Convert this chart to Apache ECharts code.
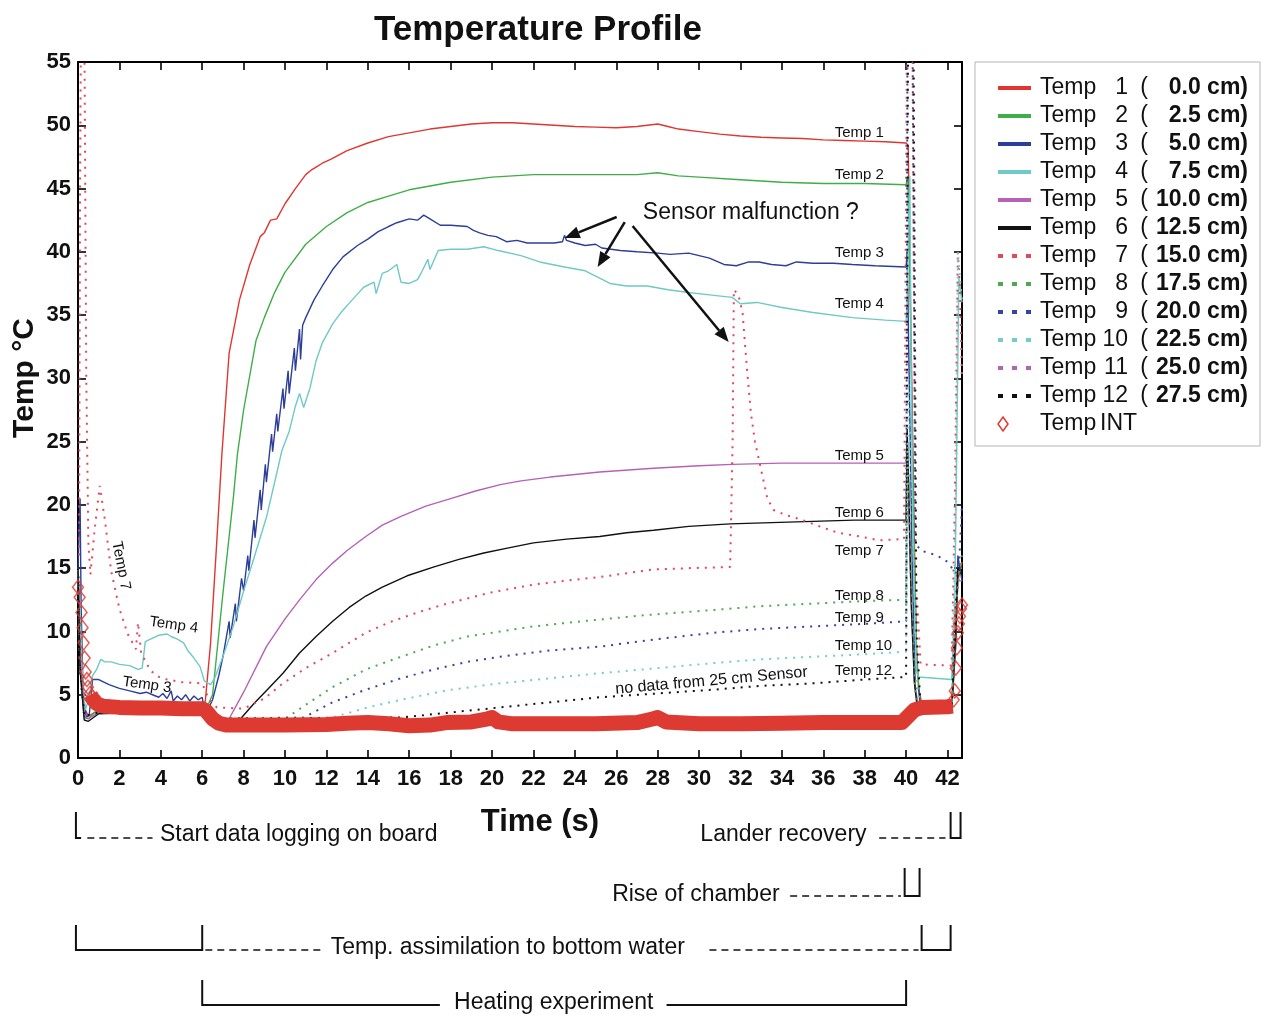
<!DOCTYPE html>
<html><head><meta charset="utf-8">
<script src="https://cdn.jsdelivr.net/npm/echarts@6/dist/echarts.min.js"></script>
<style>html,body{margin:0;padding:0;background:#fff}#c{width:1263px;height:1017px}</style>
</head><body><div id="c"></div>
<script>
const FONT = "'Liberation Sans', Arial, Helvetica, sans-serif";

// ---- data ----
const seriesNames = ['Temp 1','Temp 2','Temp 3','Temp 4','Temp 5','Temp 6','Temp 7','Temp 8','Temp 9','Temp 10','Temp 11','Temp 12'];
const depths = ['0.0','2.5','5.0','7.5','10.0','12.5','15.0','17.5','20.0','22.5','25.0','27.5'];

const t1 = [[0,15],[0.1,8],[0.3,4],[0.5,3.3],[0.8,3.6],[1.2,3.9],[2,3.9],[3,3.85],[4,3.8],[5,3.8],[6,3.8],[6.15,4.5],[6.4,9],[6.7,17],[6.95,24],[7.3,32],[7.8,36.2],[8.3,39],[8.8,41.2],[9.0,41.5],[9.3,42.5],[9.6,42.6],[10,43.8],[10.5,45],[11,46.1],[11.3,46.5],[11.5,46.7],[11.8,47.0],[12.2,47.3],[13,48.0],[14,48.6],[15,49.1],[16,49.4],[17,49.7],[18,49.9],[19,50.1],[20,50.2],[21,50.2],[22,50.1],[23,50.0],[24,49.9],[25,49.85],[26,49.8],[27,49.9],[27.5,50.0],[28,50.1],[28.5,49.9],[29,49.7],[30,49.5],[31,49.3],[32,49.15],[33,49.05],[34,49.0],[35,48.95],[36,48.85],[37,48.8],[38,48.75],[39,48.7],[40,48.6],[40.1,48.4],[40.25,32],[40.4,17],[40.5,9],[40.6,5.5],[40.75,4.4],[41,4.2],[42,4.1],[42.2,4.2],[42.35,8],[42.5,14],[42.7,15.5]];
const t2 = [[0,15],[0.1,7],[0.3,3.2],[0.5,3.1],[0.8,3.6],[1.2,3.8],[3,3.8],[6,3.7],[6.2,3.9],[6.5,5],[7,13],[7.5,20.5],[7.7,24],[8,27.5],[8.6,33],[9,34.8],[9.5,36.8],[10,38.4],[11,40.6],[12,42.0],[13,43.1],[14,43.9],[15,44.4],[16,44.9],[17,45.2],[18,45.5],[20,45.9],[22,46.1],[24,46.1],[26,46.1],[27,46.1],[28,46.25],[29,46.0],[30,45.9],[32,45.7],[34,45.5],[36,45.4],[38,45.4],[40,45.3],[40.08,46],[40.2,36],[40.35,20],[40.5,8],[40.7,4.0],[42.2,4.0],[42.4,9],[42.5,15],[42.7,15]];
const t3 = [[0,15],[0.05,18],[0.1,20.5],[0.15,12],[0.25,5],[0.4,3.2],[0.55,3.5],[0.7,6.2],[1,6.2],[1.5,5.8],[2,5.5],[2.5,5.3],[3,5.1],[3.3,5.2],[3.6,5.0],[3.9,4.8],[4.1,5.1],[4.3,4.7],[4.5,5.3],[4.6,4.5],[4.8,4.9],[5.0,4.6],[5.2,5.0],[5.4,4.5],[5.6,4.9],[5.8,4.6],[6.0,4.8],[6.1,3.8],[6.3,3.9],[6.5,4.6],[6.8,6.5],[7.0,8.0],[7.3,10.8],[7.35,9.5],[7.6,12.2],[7.65,10.8],[7.9,14.2],[8.0,13.2],[8.2,16],[8.25,14.8],[8.5,18.8],[8.55,17.4],[8.8,21.2],[8.85,19.6],[9.05,23.2],[9.1,21.8],[9.35,25.6],[9.4,24.2],[9.6,27.2],[9.65,25.8],[9.9,29.2],[9.95,27.6],[10.15,30.6],[10.2,28.8],[10.45,32.4],[10.5,30.6],[10.7,33.9],[10.75,31.5],[10.85,34.2],[11,34.8],[11.4,36.2],[11.8,37.3],[12.3,38.6],[12.8,39.6],[13.5,40.5],[14,41.0],[14.5,41.6],[15,42.0],[15.4,42.3],[16,42.6],[16.4,42.5],[16.7,42.9],[17,42.6],[17.5,42.1],[18,42.1],[18.8,42.0],[19.1,41.7],[19.4,41.5],[19.8,41.3],[20.2,41.2],[20.7,40.8],[21.2,40.9],[21.7,40.7],[22.3,40.7],[23,40.7],[23.4,40.8],[23.5,41.3],[23.6,40.9],[24,40.7],[24.5,40.5],[25,40.6],[25.3,40.3],[26.2,40.1],[27,40.0],[28,39.9],[28.6,39.8],[29.5,39.9],[30.5,39.5],[31.2,39.0],[31.8,38.9],[32.4,39.2],[32.9,39.2],[33.5,39.0],[34.2,38.9],[34.7,39.2],[35.5,39.1],[36.5,39.1],[37.4,39.0],[38.5,38.9],[40,38.8],[40.05,40],[40.15,30],[40.3,15],[40.45,5.5],[40.6,5.5],[40.7,4.0],[42.2,3.8],[42.4,9],[42.5,16],[42.7,14]];
const t4 = [[0,15],[0.1,12],[0.2,7],[0.35,3.8],[0.5,4.5],[0.7,6.5],[0.9,7.0],[1.1,7.8],[1.3,7.6],[1.6,7.6],[2,7.4],[2.5,7.3],[2.9,7.0],[3.1,7.1],[3.25,9.2],[3.5,9.4],[3.9,9.7],[4.3,9.8],[4.5,9.6],[4.8,9.4],[5.1,9.1],[5.3,8.5],[5.6,7.9],[5.9,7.2],[6.1,6.1],[6.4,5.8],[6.6,6.3],[7.0,8.0],[7.5,10.4],[8.0,13.2],[8.5,15.8],[9.1,19.0],[9.6,22.5],[9.85,24.3],[10.2,25.8],[10.5,27.8],[10.7,28.8],[10.9,27.7],[11.2,29.2],[11.5,31.4],[11.8,32.8],[12.3,34.3],[12.7,35.2],[13.3,36.3],[13.8,37.2],[14.3,37.6],[14.4,36.7],[14.7,38.3],[15.0,38.5],[15.4,39.0],[15.6,37.6],[16.0,37.5],[16.4,37.8],[16.6,38.4],[16.9,39.4],[17.0,38.6],[17.4,40.1],[18,40.2],[18.8,40.2],[19.6,40.4],[20.3,40.1],[21.4,39.7],[22.3,39.2],[23.5,38.8],[24.5,38.5],[25.1,38.0],[25.7,37.5],[26.5,37.3],[27.5,37.3],[28.5,37.0],[29.4,36.8],[30.5,36.6],[31.6,36.4],[32,35.9],[32.8,36.0],[34,35.6],[35.5,35.2],[37.4,34.8],[39,34.6],[40,34.5],[40.05,36],[40.12,42],[40.18,46],[40.25,30],[40.35,16],[40.5,7],[40.6,6.4],[42.2,6.2],[42.35,12],[42.45,25],[42.55,38],[42.7,36]];
const t5 = [[0,15],[0.1,8],[0.3,3.3],[0.5,3.1],[1,3.6],[3,3.7],[6,3.6],[6.3,3.2],[7.0,3.0],[7.3,3.1],[8,5.2],[9.1,8.8],[10,11],[10.7,12.5],[11.5,14.1],[12.3,15.4],[13,16.4],[13.9,17.5],[14.7,18.4],[15.6,19.1],[16.8,19.9],[18,20.5],[19.2,21.1],[20.4,21.6],[21.4,21.9],[22.8,22.2],[25.2,22.6],[27.8,22.9],[30,23.1],[31.6,23.2],[34,23.3],[36,23.3],[38.7,23.3],[40,23.3],[40.05,25],[40.2,15],[40.4,6],[40.6,4],[42.2,4],[42.4,10],[42.5,14],[42.7,14]];
const t6 = [[0,15],[0.1,7],[0.3,3.0],[0.5,2.9],[1,3.5],[3,3.6],[6,3.5],[6.4,3.0],[7.8,3.0],[8.5,4.3],[9.2,5.5],[9.9,6.7],[10.7,8.3],[11.5,9.6],[12.3,10.8],[13.1,11.9],[13.9,12.8],[14.7,13.5],[15.9,14.4],[17.2,15.1],[18.4,15.7],[19.6,16.2],[20.8,16.6],[22,17.0],[23.6,17.3],[25.2,17.5],[26.5,17.8],[27.8,18.0],[29.5,18.3],[31.5,18.5],[33.5,18.6],[35.5,18.7],[37.5,18.8],[40,18.8],[40.05,26],[40.12,22],[40.25,12],[40.4,6],[40.55,3.8],[42.2,3.8],[42.4,10],[42.5,15],[42.7,14.5]];
const t7 = [[0.05,16],[0.1,45],[0.15,60],[0.3,60],[0.4,30],[0.5,17],[0.6,14.5],[0.8,18],[1.05,21.5],[1.3,18.8],[1.6,14.8],[2,11.8],[2.4,9.8],[2.8,8.6],[2.9,10.7],[3.05,8.3],[3.5,6.9],[4,6.3],[5,6.0],[6,5.9],[6.3,4.7],[6.7,4.0],[8,3.9],[9,4.7],[9.9,5.9],[11,7.1],[12.3,8.3],[13.9,9.9],[15,10.7],[16.4,11.5],[17.6,12.1],[18.8,12.6],[20,13.1],[22,13.7],[23.5,14.0],[25.2,14.3],[27.8,14.9],[29.5,15.0],[31.5,15.1],[31.62,25],[31.68,37],[31.9,36.6],[32.1,35.2],[32.3,31],[32.5,27.3],[32.7,25],[32.9,23.5],[33.3,20.5],[33.6,19.6],[34.2,19.2],[35,18.8],[36,18.2],[36.7,17.8],[37.8,17.5],[38.7,17.2],[39.9,17.3],[40.05,60],[40.3,60],[40.45,15],[40.7,7.4],[42.2,7.3],[42.35,20],[42.5,40],[42.6,37],[42.7,30]];
const t8 = [[0,15],[0.1,7],[0.3,3.3],[0.6,3.4],[1,3.6],[6,3.5],[6.4,3.1],[8.5,3.0],[10.1,3.2],[11,4.2],[12.3,5.6],[13.9,7.0],[15.6,8.0],[17.2,8.9],[18.8,9.6],[20.4,10.0],[22,10.4],[24.3,10.8],[27.5,11.3],[30.7,11.7],[33,12.0],[35.5,12.2],[38,12.4],[40,12.5],[40.08,25],[40.25,14],[40.45,5],[40.7,4],[42.2,4],[42.4,12],[42.6,15],[42.7,16]];
const t9 = [[0,15],[0.1,7],[0.3,3.3],[1,3.6],[6,3.5],[6.4,3.1],[10.9,3.2],[12.3,4.4],[13.9,5.4],[15.6,6.3],[17.2,7.0],[18.8,7.6],[20.4,8.0],[22.8,8.5],[25.2,8.8],[28,9.4],[30.7,9.9],[33,10.2],[35.5,10.4],[38,10.6],[40,10.8],[40.07,60],[40.3,60],[40.45,17],[40.7,16.4],[41.5,16],[42,15.5],[42.4,14.6],[42.55,15],[42.7,20]];
const t10 = [[0,15],[0.1,7],[0.3,3.3],[1,3.6],[6,3.5],[6.4,3.1],[12.3,3.2],[14,4.0],[15.6,4.6],[18,5.4],[20.4,5.9],[22.8,6.3],[25.2,6.7],[28,7.1],[30.7,7.5],[33,7.8],[35.5,8.0],[38,8.2],[40,8.4],[40.1,30],[40.3,20],[40.5,6],[40.7,4],[42.2,4],[42.4,20],[42.5,40],[42.6,38],[42.7,36]];
const t11 = []; // no data from 25 cm sensor
const t12 = [[0,15],[0.1,7],[0.3,3.3],[1,3.6],[6,3.5],[6.4,3.1],[15.6,3.2],[18,3.6],[20.4,4.0],[22.8,4.4],[25.2,4.8],[28,5.1],[30.7,5.4],[33,5.7],[35.5,5.9],[38,6.2],[40,6.4],[40.1,60],[40.35,60],[40.5,10],[40.7,4],[42.2,4],[42.4,12],[42.5,15],[42.7,15]];
const intBand = [[0.6,5.0],[0.7,4.7],[0.9,4.3],[1.2,4.1],[2,4.0],[3,3.95],[4,3.95],[5,3.9],[6,3.9],[6.2,3.7],[6.5,3.1],[6.8,2.75],[7.2,2.6],[8,2.6],[10,2.6],[12,2.65],[13,2.75],[14,2.8],[15,2.7],[16,2.55],[17,2.6],[17.8,2.8],[19,2.85],[19.8,3.1],[20,3.2],[20.3,2.85],[21,2.7],[23,2.7],[25,2.7],[27,2.8],[27.8,3.1],[28,3.2],[28.4,2.85],[30,2.7],[32,2.7],[34,2.75],[36,2.8],[38,2.8],[39.8,2.8],[40.1,3.3],[40.4,3.8],[40.8,4.0],[42,4.05],[42.25,4.1]];
const intStart = [[0,13.5],[0.08,12.7],[0.17,11.5],[0.22,10.3],[0.27,9.1],[0.32,7.9],[0.37,6.8],[0.43,6.2],[0.48,5.6],[0.58,5.1],[0.68,4.8]];
const intEnd = [[42.3,4.6],[42.35,5.3],[42.4,7.1],[42.45,8.7],[42.5,9.9],[42.55,10.6],[42.6,11.2],[42.65,11.8],[42.7,12.1]];

// annotations (data coordinates)
const curveLabels = [['Temp 1',49.4],['Temp 2',46.1],['Temp 3',39.9],['Temp 4',35.9],['Temp 5',23.9],['Temp 6',19.4],['Temp 7',16.4],['Temp 8',12.8],['Temp 9',11.1],['Temp 10',8.9],['Temp 12',6.9]];
const arrows = [[26.02,42.75,23.51,41.09],[26.41,42.35,25.10,38.80],[26.79,42.04,31.43,32.87]];

const COL = {red:'#e0362f', green:'#3fae49', blue:'#2c3e98', cyan:'#6fc9c6', mag:'#b562b6', black:'#111111',
             dred:'#e2475c', dgreen:'#4aab52', dblue:'#34469f', dcyan:'#74ccc8', dmag:'#b562b6', dblack:'#111111', int:'#dd3a32'};

const defs = [
  {name:'Temp 1', data:t1, color:COL.red, dotted:false},
  {name:'Temp 2', data:t2, color:COL.green, dotted:false},
  {name:'Temp 3', data:t3, color:COL.blue, dotted:false},
  {name:'Temp 4', data:t4, color:COL.cyan, dotted:false},
  {name:'Temp 5', data:t5, color:COL.mag, dotted:false},
  {name:'Temp 6', data:t6, color:COL.black, dotted:false},
  {name:'Temp 7', data:t7, color:COL.dred, dotted:true},
  {name:'Temp 8', data:t8, color:COL.dgreen, dotted:true},
  {name:'Temp 9', data:t9, color:COL.dblue, dotted:true},
  {name:'Temp 10', data:t10, color:COL.dcyan, dotted:true},
  {name:'Temp 11', data:t11, color:COL.dmag, dotted:true},
  {name:'Temp 12', data:t12, color:COL.dblack, dotted:true}
];

const series = defs.map(d => ({
  name: d.name, type: 'line', data: d.data, symbol: 'none', showSymbol: false, silent: true,
  lineStyle: {color: d.color, width: d.dotted ? 2 : 1.4, type: d.dotted ? [2, 6] : 'solid'},
  itemStyle: {color: d.color}, z: 2, clip: true
}));
series.push({name:'Temp INT', type:'scatter', data: intStart.concat(intEnd), symbol:'diamond', symbolSize:[11,14], silent:true,
  itemStyle:{color:'rgba(255,255,255,0)', borderColor:COL.int, borderWidth:1.5}, z:5, clip:true});
series.push({name:'Temp INT', type:'line', data: intBand, symbol:'none', showSymbol:false, silent:true,
  lineStyle:{color:COL.int, width:15, cap:'butt', join:'round'}, itemStyle:{color:COL.int}, z:4, clip:true});

const legendData = defs.map(d => ({name:d.name, itemStyle:{opacity:0},
  lineStyle:{width:4, color:d.color, type: d.dotted ? [5, 9] : 'solid', cap:'butt', opacity:1}}));
legendData.push({name:'Temp INT', icon:'path://M5,0L10,7L5,14L0,7ZM33,0L33,0.01M33,14L33,13.99',
  itemStyle:{opacity:1, color:'rgba(255,255,255,0)', borderColor:COL.int, borderWidth:1.5}});

const axisCommon = {
  type:'value', splitLine:{show:false},
  axisLine:{show:true, onZero:false, lineStyle:{color:'#000', width:2}},
  axisTick:{show:true, inside:true, length:8, lineStyle:{color:'#000', width:1.6}}
};

const tok = (extra) => Object.assign({fontSize:23, fontFamily:FONT, lineHeight:28, color:'#111'}, extra);

const chart = echarts.init(document.getElementById('c'), null, {renderer:'canvas'});
chart.setOption({
  animation:false,
  backgroundColor:'#fff',
  title:{text:'Temperature Profile', left:533, top:8, textAlign:'center',
    textStyle:{fontFamily:FONT, fontSize:35, fontWeight:'bold', color:'#111'}},
  grid:{left:78, right:301, top:62, bottom:259, containLabel:false, outerBoundsMode:'none'},
  legend:{
    orient:'vertical', left:975, top:62, selectedMode:false, symbolKeepAspect:false,
    padding:[12, 12, 8, 21], borderColor:'#b5b5b5', borderWidth:1, backgroundColor:'#fff',
    itemWidth:33, itemHeight:14, itemGap:0, itemTextGap:10,
    data: legendData,
    formatter: function(name){
      if (name === 'Temp INT') return '{t|Temp}{i|INT}';
      const k = seriesNames.indexOf(name);
      return '{t|Temp}{n|' + (k+1) + '}{p|(}{v|' + depths[k] + ' cm)}';
    },
    textStyle:{fontFamily:FONT, fontSize:23, color:'#111', lineHeight:28,
      rich:{
        t: tok({width:60, padding:[0,0,0,4]}),
        n: tok({width:28, align:'right'}),
        p: tok({width:20, align:'right'}),
        v: tok({width:100, align:'right', fontWeight:'bold'}),
        i: tok({width:60})
      }}
  },
  xAxis:[
    Object.assign({}, axisCommon, {position:'bottom', min:0, max:42.7, interval:2,
      axisLabel:{show:true, margin:10, fontFamily:FONT, fontSize:22, fontWeight:'bold', color:'#111',
        formatter: v => (Math.abs(v - Math.round(v)) < 1e-6 && Math.round(v) % 2 === 0) ? String(Math.round(v)) : ''}}),
    Object.assign({}, axisCommon, {position:'top', min:0, max:42.7, interval:2, axisLabel:{show:false}})
  ],
  yAxis:[
    Object.assign({}, axisCommon, {position:'left', min:0, max:55, interval:5,
      axisLabel:{show:true, margin:7, fontFamily:FONT, fontSize:22, fontWeight:'bold', color:'#111'}}),
    Object.assign({}, axisCommon, {position:'right', min:0, max:55, interval:5, axisLabel:{show:false}})
  ],
  series: series
});

function buildGraphics(){
  const P = (x,y) => chart.convertToPixel({xAxisIndex:0, yAxisIndex:0}, [x,y]);
  const X = x => P(x,0)[0];
  const g = [];
  function text(str, x, y, o){
    o = o || {};
    g.push({type:'text', x:x, y:y, rotation:o.rot||0, z:100, silent:true,
      style:{text:str, x:0, y:0, fill:'#111', fontFamily:FONT, fontSize:o.size||15, fontWeight:o.bold?'bold':'normal',
        align:o.align||'left', verticalAlign:'middle', textAlign:o.align||'left', textVerticalAlign:'middle'}});
  }
  function line(x1,y1,x2,y2,dash,w){
    g.push({type:'line', z:100, silent:true, shape:{x1:x1,y1:y1,x2:x2,y2:y2},
      style:{stroke:'#111', lineWidth:w||2, lineDash:dash||null, fill:null}});
  }
  function poly(pts){
    g.push({type:'polyline', z:100, silent:true, shape:{points:pts}, style:{stroke:'#111', lineWidth:2, fill:null}});
  }
  // axis names
  text('Temp °C', 25, 378, {size:30, bold:true, align:'center', rot:Math.PI/2});
  text('Time (s)', 540, 822, {size:31, bold:true, align:'center'});
  // curve labels
  curveLabels.forEach(c => { const p = P(36.55, c[1]); text(c[0], p[0], p[1], {size:15}); });
  // rotated labels in plot
  let p = P(2.08, 15.2); text('Temp 7', p[0], p[1], {size:15, align:'center', rot:-1.38});
  p = P(4.63, 10.5); text('Temp 4', p[0], p[1], {size:15, align:'center', rot:-0.14});
  p = P(3.33, 5.77); text('Temp 3', p[0], p[1], {size:15, align:'center', rot:-0.14});
  p = P(30.6, 6.1); text('no data from 25 cm Sensor', p[0], p[1], {size:16, align:'center', rot:0.09});
  p = P(32.5, 43.1); text('Sensor malfunction ?', p[0], p[1], {size:23, align:'center'});
  // arrows
  arrows.forEach(a => {
    const s = P(a[0], a[1]), e = P(a[2], a[3]);
    const dx = e[0]-s[0], dy = e[1]-s[1], L = Math.sqrt(dx*dx+dy*dy), ux = dx/L, uy = dy/L;
    const hl = 15, hw = 6;
    const bx = e[0]-ux*hl, by = e[1]-uy*hl;
    line(s[0], s[1], bx, by, null, 2.5);
    g.push({type:'polygon', z:100, silent:true, shape:{points:[[e[0],e[1]],[bx-uy*hw, by+ux*hw],[bx+uy*hw, by-ux*hw]]}, style:{fill:'#111'}});
  });
  const D = [7,5];
  // row 1
  poly([[X(-0.1),812],[X(-0.1),838],[X(0.15),838]]);
  line(X(0.45),838,X(3.6),838,D,1.6);
  text('Start data logging on board', X(3.96), 835, {size:23});
  text('Lander recovery', X(38.09), 835, {size:23, align:'right'});
  line(X(38.7),838,X(41.9),838,D,1.6);
  poly([[X(42.15),812],[X(42.15),838],[X(42.63),838],[X(42.63),812]]);
  // row 2
  text('Rise of chamber', X(33.89), 895, {size:23, align:'right'});
  line(X(34.4),896,X(39.75),896,D,1.6);
  poly([[X(39.93),868],[X(39.93),896],[X(40.65),896],[X(40.65),868]]);
  // row 3
  poly([[X(-0.1),925],[X(-0.1),950],[X(6),950],[X(6),925]]);
  line(X(6.15),950,X(11.9),950,D,1.6);
  text('Temp. assimilation to bottom water', X(12.21), 948, {size:23});
  line(X(30.5),950,X(40.6),950,D,1.6);
  poly([[X(40.75),925],[X(40.75),950],[X(42.15),950],[X(42.15),925]]);
  // row 4
  poly([[X(6),980],[X(6),1005],[X(17.48),1005]]);
  text('Heating experiment', X(22.98), 1003, {size:23, align:'center'});
  poly([[X(28.43),1005],[X(40),1005],[X(40),980]]);
  chart.setOption({graphic:{elements:g}});
}
buildGraphics();
</script>
</body></html>
